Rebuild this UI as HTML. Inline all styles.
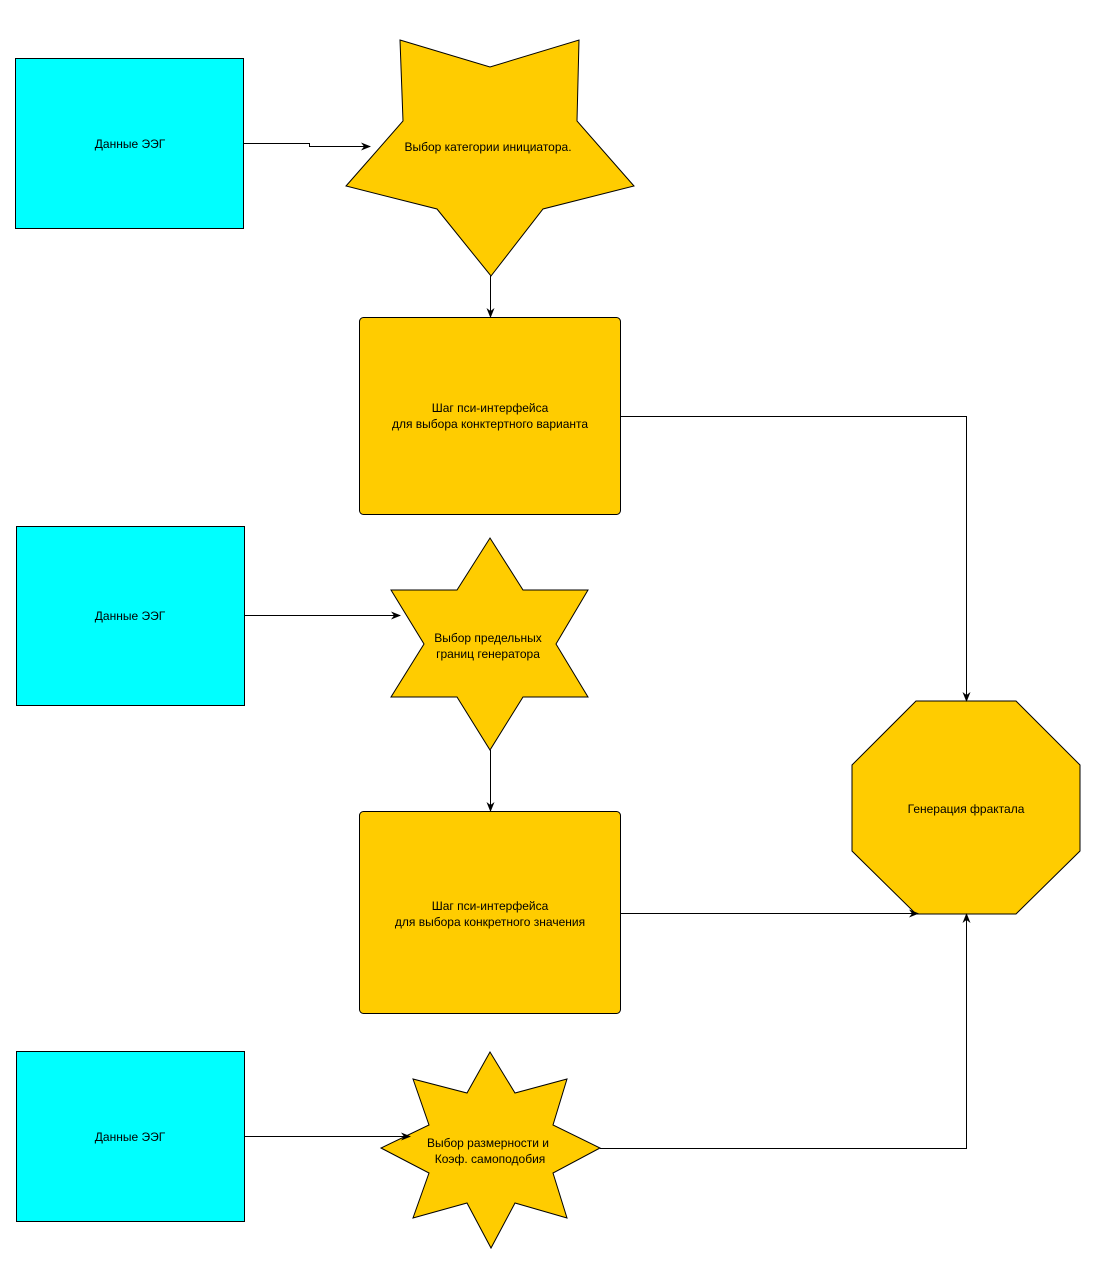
<!DOCTYPE html>
<html><head><meta charset="utf-8"><style>
body{margin:0;background:#fff}
text{font-family:"Liberation Sans",sans-serif;font-size:12px;fill:#000}
</style></head><body>
<svg width="1095" height="1263" viewBox="0 0 1095 1263" xmlns="http://www.w3.org/2000/svg">
<defs><marker id="a" markerWidth="10" markerHeight="8" refX="9" refY="4" orient="auto" markerUnits="userSpaceOnUse"><path d="M0,0 L10,4 L0,8 L3,4 Z" fill="#000"/></marker></defs>
<g stroke="#000" stroke-width="1">
<rect x="15.5" y="58.5" width="228" height="170" fill="#00ffff"/>
<rect x="16.5" y="526.5" width="228" height="179" fill="#00ffff"/>
<rect x="16.5" y="1051.5" width="228" height="170" fill="#00ffff"/>
<polygon points="400,40 490,67 579,40 577,121 634,186 543,209 491,276 437,209 346,186 403,121" fill="#ffcc00"/>
<rect x="359.5" y="317.5" width="261" height="197" rx="4" fill="#ffcc00"/>
<polygon points="490,538 523,590 588,590 556,644 588,697 523,697 490,750 457,697 391,697 424,644 391,590 457,590" fill="#ffcc00"/>
<rect x="359.5" y="811.5" width="261" height="202" rx="4" fill="#ffcc00"/>
<polygon points="490,1052 515,1093 567,1079 553,1125 600,1148 553,1173 567,1218 515,1203 491,1248 467,1203 413,1218 429,1173 381,1148 429,1125 413,1079 467,1093" fill="#ffcc00"/>
<polygon points="916,701 1016,701 1080,765 1080,851 1016,914 916,914 852,851 852,765" fill="#ffcc00"/>
<g fill="none">
<path d="M243,143.5 H309.5 V146.5 H370" marker-end="url(#a)"/>
<path d="M490.5,276 V317" marker-end="url(#a)"/>
<path d="M620,416.5 H966.5 V701" marker-end="url(#a)"/>
<path d="M244,615.5 H400" marker-end="url(#a)"/>
<path d="M490.5,750 V811" marker-end="url(#a)"/>
<path d="M620,913.5 H918" marker-end="url(#a)"/>
<path d="M244,1136.5 H410" marker-end="url(#a)"/>
<path d="M600,1148.5 H966.5 V914" marker-end="url(#a)"/>
</g>
</g>
<g text-anchor="middle">
<text x="130" y="148">Данные ЭЭГ</text>
<text x="130" y="620">Данные ЭЭГ</text>
<text x="130" y="1141">Данные ЭЭГ</text>
<text x="488" y="151">Выбор категории инициатора.</text>
<text x="490" y="412">Шаг пси-интерфейса</text>
<text x="490" y="428">для выбора конктертного варианта</text>
<text x="488" y="642">Выбор предельных</text>
<text x="488" y="658">границ генератора</text>
<text x="490" y="910">Шаг пси-интерфейса</text>
<text x="490" y="926">для выбора конкретного значения</text>
<text x="488" y="1147">Выбор размерности и</text>
<text x="490" y="1163">Коэф. самоподобия</text>
<text x="966" y="813">Генерация фрактала</text>
</g>
</svg>
</body></html>
